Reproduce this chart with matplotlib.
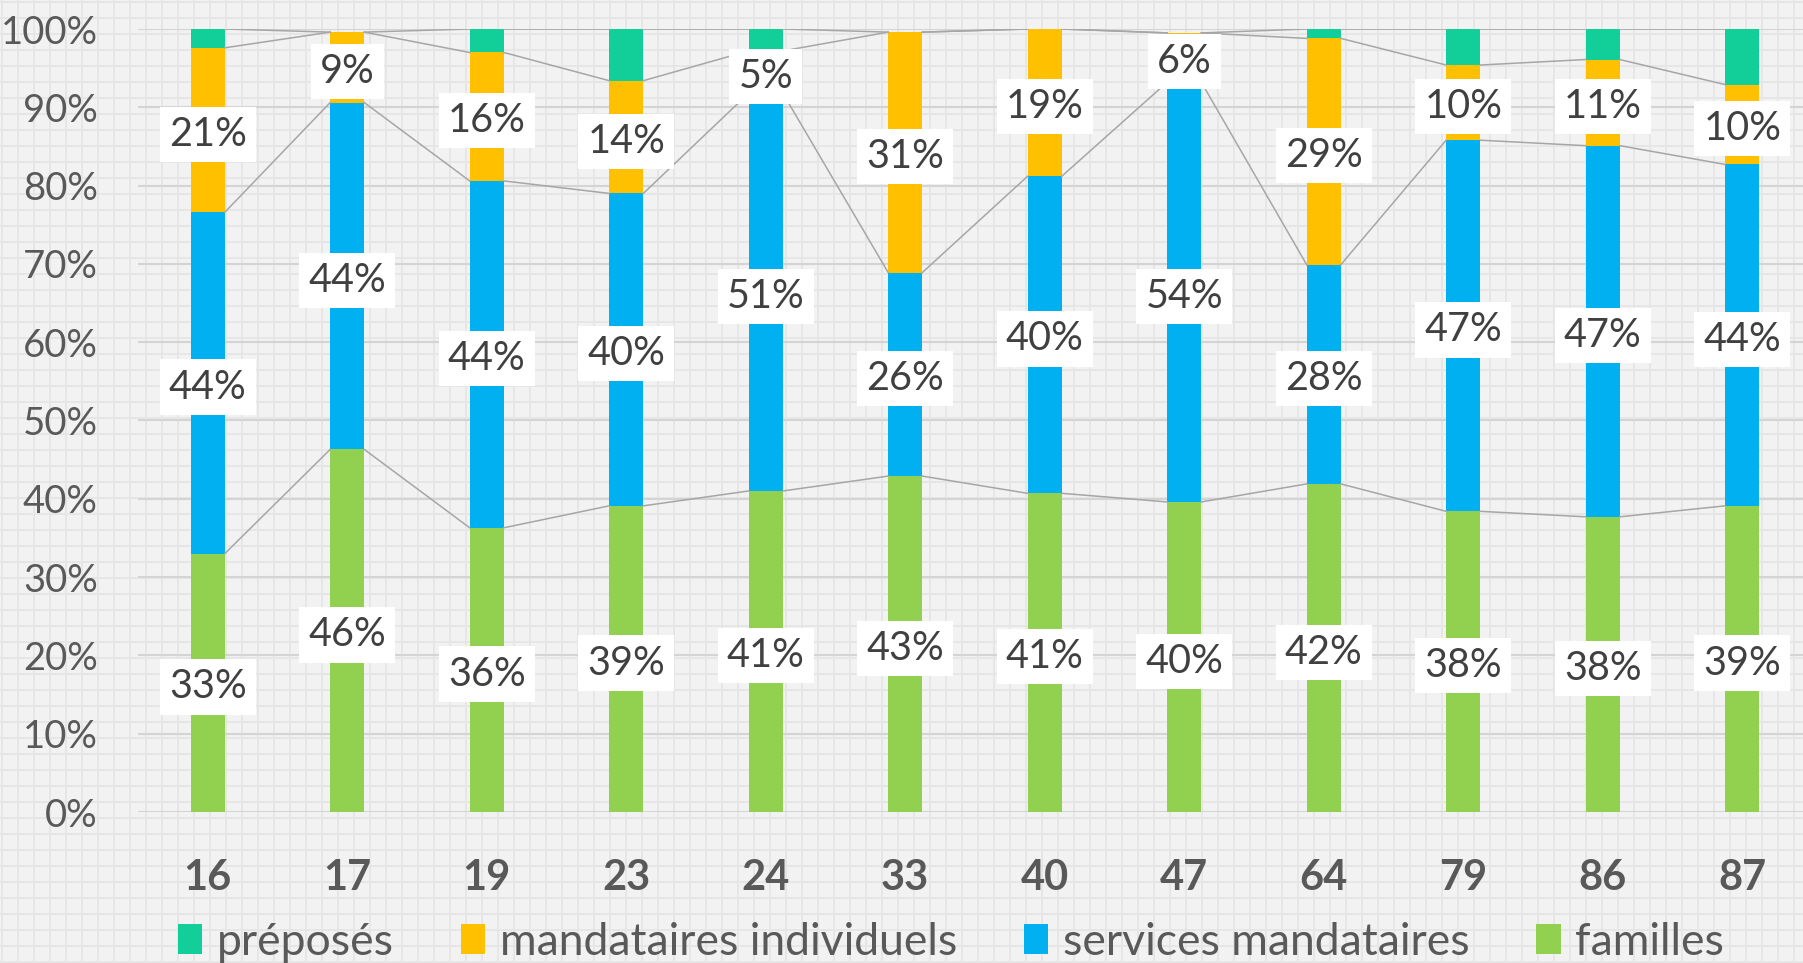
import numpy as np
import matplotlib
matplotlib.use('Agg')
import matplotlib.pyplot as plt
from matplotlib.patches import Patch

plt.rcParams['font.family'] = ['Lato', 'DejaVu Sans']

# departements and share of each type of mandate (%)
departements = ['16', '17', '19', '23', '24', '33', '40', '47', '64', '79', '86', '87']
familles = [33.0, 46.3, 36.3, 39.1, 41.0, 42.9, 40.7, 39.6, 41.9, 38.4, 37.7, 39.1]
services_mandataires = [43.6, 44.3, 44.3, 39.9, 50.8, 26.0, 40.5, 53.6, 28.0, 47.4, 47.4, 43.6]
mandataires_individuels = [21.0, 9.0, 16.4, 14.4, 5.4, 30.7, 18.8, 6.3, 28.9, 9.6, 11.0, 10.2]
preposes = [2.4, 0.0, 3.0, 6.6, 2.8, 0.0, 0.0, 0.0, 1.2, 4.6, 3.9, 7.1]

series = [
    ('familles', familles, '#92D050'),
    ('services mandataires', services_mandataires, '#00B0F0'),
    ('mandataires individuels', mandataires_individuels, '#FFC000'),
    ('préposés', preposes, '#12CF99'),
]
labelled = ['familles', 'services mandataires', 'mandataires individuels']

W, H = 1803, 963
fig = plt.figure(figsize=(W / 100, H / 100), dpi=100)
fig.patch.set_facecolor('#f2f2f2')

# patterned background (small squares)
bg = fig.add_axes([0, 0, 1, 1], zorder=-10)
bg.set_xlim(0, W)
bg.set_ylim(0, H)
bg.axis('off')
for xx in np.arange(1.5, W, 16):
    bg.axvline(xx, color='#e6e6e6', lw=1.4)
for yy in np.arange(H - 1.5, 0, -16):
    bg.axhline(yy, color='#e6e6e6', lw=1.4)

ax = fig.add_axes([138 / W, (H - 812) / H, 1674 / W, 783 / H])
ax.set_facecolor('none')

x = np.arange(len(departements))
bw = 0.245
bottom = np.zeros(len(departements))
tops = []
for name, vals, col in series:
    vals = np.array(vals)
    ax.bar(x, vals, bw, bottom=bottom, color=col, zorder=3)
    if name in labelled:
        for xi, b, v in zip(x, bottom, vals):
            ax.annotate(f'{round(v)}%', (xi, b + v / 2), xytext=(0, -3),
                        textcoords='offset points', ha='center', va='center',
                        fontsize=28.5, color='#404040', zorder=6,
                        bbox=dict(boxstyle='square,pad=0.23', fc='white', ec='none'))
    bottom = bottom + vals
    tops.append(bottom.copy())

# series lines between bars
for top in tops:
    for i in range(len(x) - 1):
        ax.plot([x[i] + bw / 2, x[i + 1] - bw / 2], [top[i], top[i + 1]],
                color='#a6a6a6', lw=1.1, zorder=4)

ax.set_xlim(-0.5, len(x) - 0.5)
ax.set_ylim(0, 100)
ax.set_yticks(np.arange(0, 101, 10))
ax.set_yticklabels([f'{v}%' for v in range(0, 101, 10)])
ax.set_xticks(x)
ax.set_xticklabels(departements, fontweight='bold')
ax.tick_params(axis='y', length=0, pad=29, labelsize=27.5, labelcolor='#595959')
ax.tick_params(axis='x', length=0, pad=34, labelsize=30, labelcolor='#595959')
ax.grid(axis='y', color='#d4d4d4', lw=1.5, zorder=0)
ax.set_axisbelow(True)
for s in ax.spines.values():
    s.set_visible(False)

handles = [Patch(facecolor=c, edgecolor='none', label=n)
           for n, c in [('préposés', '#12CF99'), ('mandataires individuels', '#FFC000'),
                        ('services mandataires', '#00B0F0'), ('familles', '#92D050')]]
fig.legend(handles=handles, loc='center', bbox_to_anchor=(951 / W, (H - 942) / H),
           ncol=4, frameon=False, fontsize=32, labelcolor='#595959',
           handlelength=0.55, handleheight=0.66, handletextpad=0.33,
           columnspacing=1.5, borderpad=0)

fig.savefig('out.png', dpi=100, facecolor=fig.get_facecolor())
